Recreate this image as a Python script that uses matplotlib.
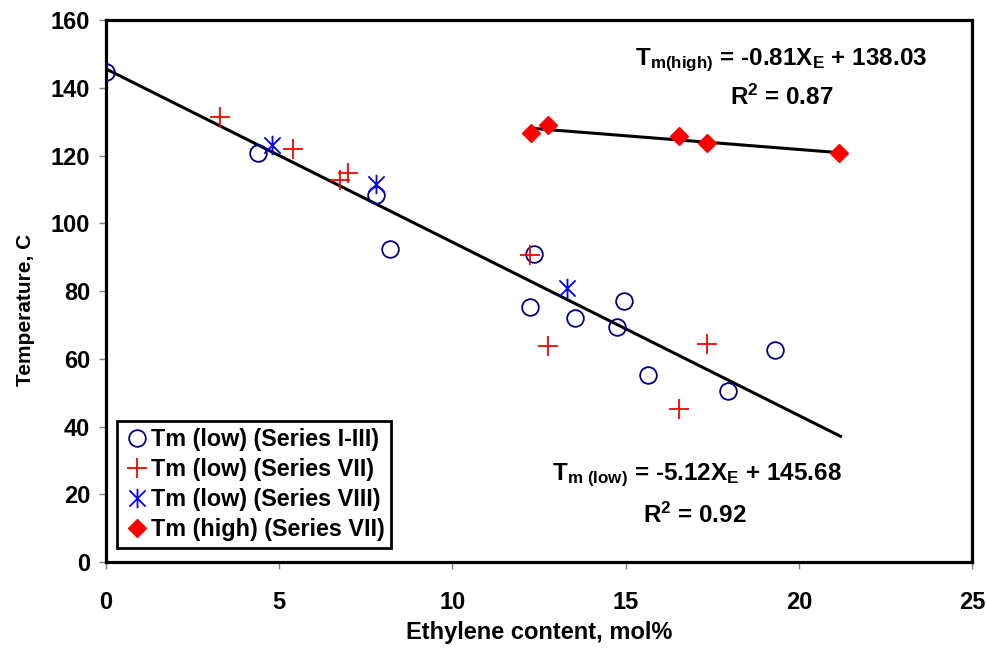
import matplotlib
matplotlib.use("Agg")
import matplotlib.pyplot as plt
from matplotlib.path import Path

plt.rcParams['font.family'] = ['Liberation Sans', 'DejaVu Sans']
plt.rcParams['font.weight'] = 'bold'
plt.rcParams['mathtext.fontset'] = 'custom'
plt.rcParams['mathtext.rm'] = 'Liberation Sans:bold'
plt.rcParams['mathtext.it'] = 'Liberation Sans:bold'
plt.rcParams['mathtext.bf'] = 'Liberation Sans:bold'

# Tm (low), series I-III
x_s13 = [0.0, 4.4, 7.8, 8.2, 12.35, 12.25, 13.55, 14.95, 14.75, 15.65, 17.95, 19.3]
y_s13 = [144.6, 120.8, 108.3, 92.4, 91.0, 75.3, 72.2, 77.1, 69.3, 55.2, 50.6, 62.6]

# Tm (low), series VII
x_s7 = [3.3, 5.4, 6.75, 7.0, 12.25, 12.75, 17.35, 16.55]
y_s7 = [131.5, 121.9, 112.8, 114.9, 90.8, 63.9, 64.3, 45.1]

# Tm (low), series VIII
x_s8 = [4.8, 7.8, 13.3]
y_s8 = [123.1, 111.6, 81.0]

# Tm (high), series VII
x_hi = [12.27, 12.77, 16.55, 17.35, 21.15]
y_hi = [126.6, 129.0, 125.8, 123.8, 120.8]

# fitted lines
low_fit = (-5.12, 145.68)
high_fit = (-0.81, 138.03)
low_range = [0.0, 21.2]
high_range = [12.27, 21.15]

star = Path([(-1, -1), (1, 1), (-1, 1), (1, -1), (0, -1.2), (0, 1.2)],
            [Path.MOVETO, Path.LINETO, Path.MOVETO, Path.LINETO, Path.MOVETO, Path.LINETO])

fig = plt.figure(figsize=(9.87, 6.52), dpi=100)
ax = fig.add_axes([0.107, 0.138, 0.878, 0.831])

ax.plot(low_range, [low_fit[0] * x + low_fit[1] for x in low_range], color='black', lw=2.2, zorder=2)
ax.plot(high_range, [high_fit[0] * x + high_fit[1] for x in high_range], color='black', lw=2.2, zorder=2)

ax.plot(x_s13, y_s13, 'o', ms=12, mfc='none', mec='#000080', mew=1.3, ls='none',
        label='Tm (low) (Series I-III)', zorder=3)
ax.plot(x_s7, y_s7, '+', ms=14, color='red', mew=1.3, ls='none',
        label='Tm (low) (Series VII)', zorder=3)
ax.plot(x_s8, y_s8, marker=star, ms=14, color='blue', mew=1.3, ls='none',
        label='Tm (low) (Series VIII)', zorder=3)
ax.plot(x_hi, y_hi, 'D', ms=9, color='red', ls='none',
        label='Tm (high) (Series VII)', zorder=3)

ax.set_xlim(0, 25)
ax.set_ylim(0, 160)
ax.set_xticks(range(0, 26, 5))
ax.set_yticks(range(0, 161, 20))
ax.tick_params(labelsize=17, direction='out', length=5, width=1, color='#808080')
ax.tick_params(axis='x', pad=16)
ax.tick_params(axis='y', pad=6)
for s in ax.spines.values():
    s.set_linewidth(2.3)

ax.set_xlabel('Ethylene content, mol%', fontsize=17, fontweight='bold', labelpad=5)
ax.set_ylabel('Temperature, C', fontsize=15, fontweight='bold')
ax.yaxis.set_label_coords(-0.082, 0.465)

ax.text(19.5, 148.2, r'T$_{\mathrm{m(high)}}$ = -0.81X$_{\mathrm{E}}$ + 138.03',
        fontsize=17.5, ha='center', va='center')
ax.text(19.5, 137.3, r'R$^{2}$ = 0.87', fontsize=17.5, ha='center', va='center')
ax.text(17.05, 25.7, r'T$_{\mathrm{m\ (low)}}$ = -5.12X$_{\mathrm{E}}$ + 145.68',
        fontsize=17.5, ha='center', va='center')
ax.text(17.0, 13.9, r'R$^{2}$ = 0.92', fontsize=17.5, ha='center', va='center')

leg = ax.legend(loc='lower left', bbox_to_anchor=(0.013, 0.026), fontsize=16.8,
                handletextpad=0.05, handlelength=1.1, borderpad=0.3, labelspacing=0.3,
                fancybox=False, framealpha=1, borderaxespad=0)
leg.get_frame().set_edgecolor('black')
leg.get_frame().set_linewidth(2)
for t in leg.get_texts():
    t.set_fontweight('bold')

fig.savefig('out.png', dpi=100)
